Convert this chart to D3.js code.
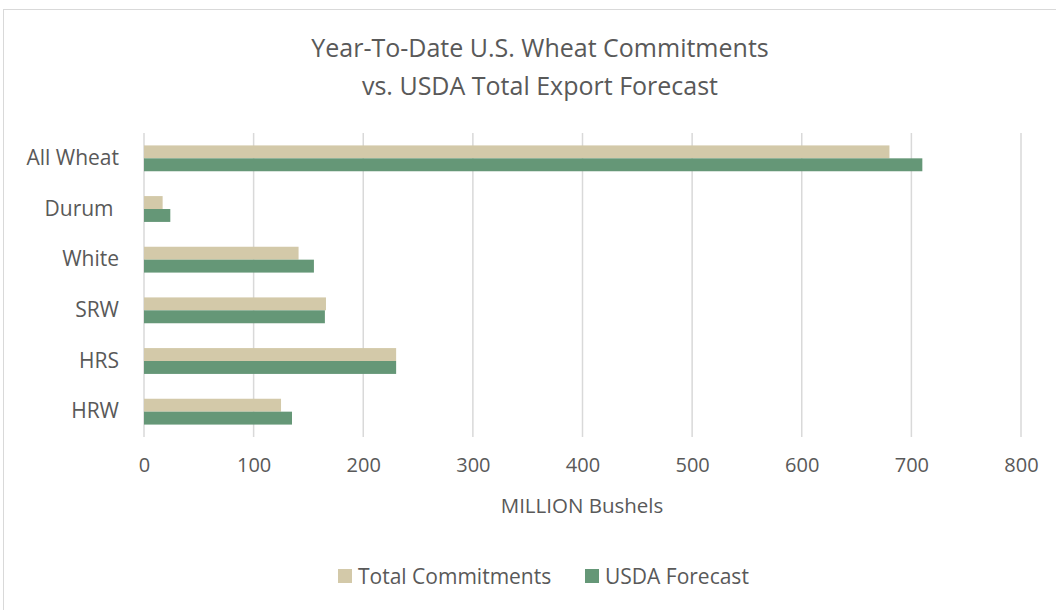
<!DOCTYPE html>
<html>
<head>
<meta charset="utf-8">
<script src="https://cdn.jsdelivr.net/npm/d3@7"></script>
<style>
  body { margin: 0; background: #fff; }
  text { font-family: "Open Sans", sans-serif; fill: #595959; }
</style>
</head>
<body>
<svg id="chart" width="1056" height="610"></svg>
<script>
// data
const categories = ['All Wheat', 'Durum ', 'White', 'SRW', 'HRS', 'HRW'];
const seriesNames = ['Total Commitments', 'USDA Forecast'];
const totalCommitments = [680, 17, 141, 166, 230, 125];
const usdaForecast = [710, 24, 155, 165, 230, 135];
const xTicks = [0, 100, 200, 300, 400, 500, 600, 700, 800];
const colors = ['#d3c9a9', '#659777'];

const svg = d3.select('#chart');
const W = 1056, H = 610;
const m = { left: 144, right: 35, top: 133, bottom: 173 };
const font = '"Open Sans", sans-serif';

// outer chart border
svg.append('rect').attr('x', 3.5).attr('y', 9.5).attr('width', W + 10).attr('height', H + 10)
  .attr('fill', 'none').attr('stroke', '#d9d9d9');

svg.append('text').attr('x', 540).attr('y', 57).attr('text-anchor', 'middle')
  .style('font-size', '25px').text('Year-To-Date U.S. Wheat Commitments');
svg.append('text').attr('x', 540).attr('y', 95).attr('text-anchor', 'middle')
  .style('font-size', '25px').text('vs. USDA Total Export Forecast');

const x = d3.scaleLinear().domain([0, 800]).range([m.left, 1021]);
const y = d3.scaleBand().domain(categories).range([m.top, H - m.bottom]).paddingInner(0.49).paddingOuter(0.245);
const y1 = d3.scaleBand().domain(seriesNames).range([0, y.bandwidth()]);

// gridlines
svg.append('g').selectAll('line').data(xTicks).join('line')
  .attr('x1', d => x(d)).attr('x2', d => x(d))
  .attr('y1', m.top).attr('y2', H - m.bottom)
  .attr('stroke', '#d9d9d9').attr('stroke-width', 1.5);

const rows = categories.map((c, i) => ({ c, vals: [totalCommitments[i], usdaForecast[i]] }));
const g = svg.append('g').selectAll('g').data(rows).join('g')
  .attr('transform', d => `translate(0,${y(d.c)})`);
g.selectAll('rect').data(d => d.vals.map((v, j) => ({ v, s: seriesNames[j], j }))).join('rect')
  .attr('x', x(0)).attr('y', d => y1(d.s))
  .attr('width', d => x(d.v) - x(0)).attr('height', y1.bandwidth())
  .attr('fill', d => colors[d.j]);

// x axis labels
const xAxis = svg.append('g').attr('transform', `translate(0,${H - m.bottom})`)
  .call(d3.axisBottom(x).tickValues(xTicks).tickSize(0).tickPadding(21));
xAxis.select('.domain').remove();
xAxis.selectAll('text').style('font-size', '20px').attr('fill', '#595959').style('font-family', font);

// y axis labels
const yAxis = svg.append('g').attr('transform', `translate(${m.left},0)`)
  .call(d3.axisLeft(y).tickSize(0).tickPadding(25));
yAxis.select('.domain').remove();
yAxis.selectAll('text').style('font-size', '21px').attr('fill', '#595959')
  .style('font-family', font).style('white-space', 'pre');

svg.append('text').attr('x', 582).attr('y', 513).attr('text-anchor', 'middle')
  .style('font-size', '20.5px').text('MILLION Bushels');

// legend
const legendX = [338, 585];
const lg = svg.append('g').selectAll('g').data(seriesNames).join('g')
  .attr('transform', (d, i) => `translate(${legendX[i]},569)`);
lg.append('rect').attr('width', 14).attr('height', 14).attr('fill', (d, i) => colors[i]);
lg.append('text').attr('x', 20).attr('y', 15).style('font-size', '21px').text(d => d);
</script>
</body>
</html>
